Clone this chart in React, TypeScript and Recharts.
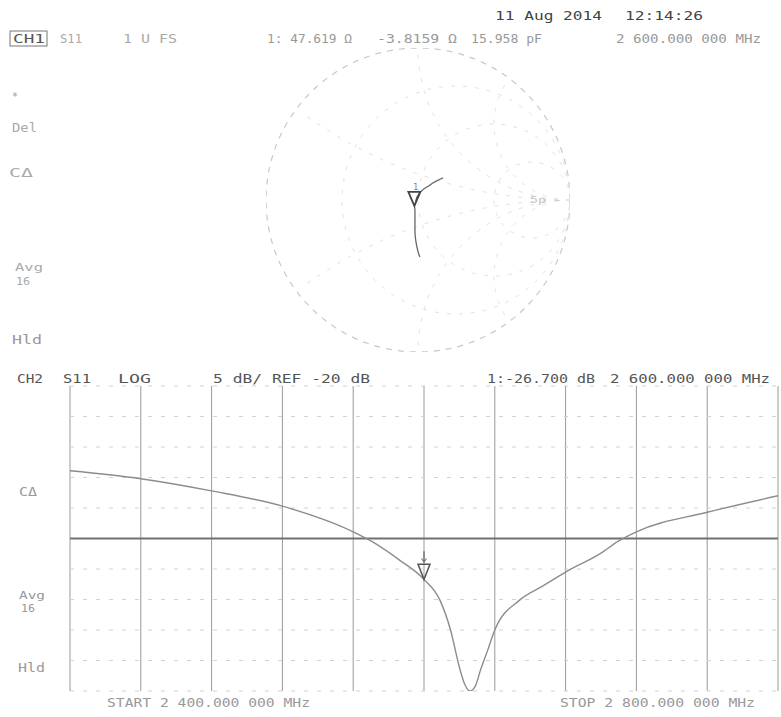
import React from "react";
import {
	CartesianGrid,
	Line,
	LineChart,
	ReferenceDot,
	ReferenceLine,
	XAxis,
	YAxis,
} from "recharts";

// CH2: S11 log magnitude, 2400 - 2800 MHz
const freqMHz = [
	2400, 2440, 2480, 2520, 2560, 2570, 2586, 2600, 2609, 2615, 2620, 2623, 2626,
	2629, 2632, 2636, 2640, 2654, 2667, 2680, 2700, 2710, 2720, 2760, 2800,
];
const s11dB = [
	-8.9, -10.2, -12.2, -14.7, -18.9, -20.4, -23.5, -26.7, -30.1, -35.0, -41.1,
	-43.9, -45.0, -44.2, -41.5, -38.3, -35.0, -30.1, -27.8, -25.5, -22.4, -20.4,
	-18.9, -15.7, -13.0,
];
const freqTicks = [2400, 2440, 2480, 2520, 2560, 2600, 2640, 2680, 2720, 2760, 2800];
const dbTicks = [5, 0, -5, -10, -15, -20, -25, -30, -35, -40, -45];
const refLevel = -20;
const markerFreq = 2600;
const markerDb = -26.7;

// CH1: S11 on Smith chart (reflection coefficient, real / imag)
const smithRe = [0.164, 0.079, -0.007, -0.024, -0.02, -0.02, -0.007, 0.013];
const smithIm = [0.145, 0.099, 0.02, -0.039, -0.066, -0.217, -0.309, -0.375];
const markerRe = -0.024;
const markerIm = -0.039;

// Smith grid
const resistanceCircles = [1 / 3, 1, 3];
const reactanceArcs = [1 / 3, 1, 2, -1 / 3, -1, -2];

const traceData = freqMHz.map((f, i) => ({ f, db: s11dB[i] }));
const smithData = smithRe.map((re, i) => ({ re, im: smithIm[i] }));

function circlePoints(cx: number, cy: number, r: number) {
	const pts = [];
	for (let i = 0; i <= 120; i++) {
		const t = (i / 120) * Math.PI * 2;
		pts.push({ re: cx + r * Math.cos(t), im: cy + r * Math.sin(t) });
	}
	return pts;
}

function reactancePoints(x: number) {
	const r = 1 / Math.abs(x);
	const sign = x > 0 ? 1 : -1;
	const pts = [];
	for (let i = 0; i <= 200; i++) {
		const s = (i / 200) * Math.PI;
		const t = -sign * Math.PI / 2 - sign * s;
		const p = { re: 1 + r * Math.cos(t), im: sign * r + r * Math.sin(t) };
		if (p.re * p.re + p.im * p.im > 1.0005 && i > 0) break;
		pts.push(p);
	}
	return pts;
}

const innerGrid = "#e2e2e2";

const MarkerShape = (props: any) => {
	const { cx, cy } = props;
	return (
		<g>
			<line x1={cx} y1={cy - 28} x2={cx} y2={cy - 17} stroke="#666" strokeWidth={1.2} />
			<path d={`M${cx - 2.5},${cy - 21} L${cx},${cy - 17} L${cx + 2.5},${cy - 21}`} fill="none" stroke="#666" />
			<path d={`M${cx - 6},${cy - 15} L${cx + 6},${cy - 15} L${cx},${cy} Z`} fill="none" stroke="#555" strokeWidth={1.5} />
		</g>
	);
};

const SmithMarker = (props: any) => {
	const { cx, cy } = props;
	return (
		<g>
			<text x={cx - 1} y={cy - 16} fontSize={8} fill="#777" fontFamily="DejaVu Sans Mono">1</text>
			<path d={`M${cx - 6},${cy - 14} L${cx + 6},${cy - 14} L${cx},${cy} Z`} fill="none" stroke="#444" strokeWidth={1.8} />
		</g>
	);
};

type Lbl = { t: string; x: number; y: number; len?: number; fill?: string; size?: number };

const labels: Lbl[] = [
	{ t: "11 Aug 2014", x: 495, y: 20, len: 107, fill: "#444", size: 13 },
	{ t: "12:14:26", x: 625, y: 20, len: 78, fill: "#444", size: 13 },
	{ t: "CH1", x: 13, y: 43, len: 32, fill: "#555" },
	{ t: "S11", x: 60, y: 43, len: 22, fill: "#aaa" },
	{ t: "1 U FS", x: 123, y: 43, len: 54, fill: "#aaa" },
	{ t: "1: 47.619 Ω", x: 267, y: 43, len: 85, fill: "#999" },
	{ t: "-3.8159 Ω", x: 377, y: 43, len: 80, fill: "#999" },
	{ t: "15.958 pF", x: 471, y: 43, len: 71, fill: "#999" },
	{ t: "2 600.000 000 MHz", x: 616, y: 43, len: 145, fill: "#999" },
	{ t: "*", x: 12, y: 100, fill: "#999", size: 10 },
	{ t: "Del", x: 12, y: 132, len: 25, fill: "#aaa" },
	{ t: "CΔ", x: 9, y: 177, len: 24, fill: "#aaa" },
	{ t: "Avg", x: 15, y: 271, len: 28, fill: "#aaa", size: 10 },
	{ t: "16", x: 16, y: 285, len: 14, fill: "#aaa", size: 10 },
	{ t: "Hld", x: 12, y: 344, len: 30, fill: "#999" },
	{ t: "5p -", x: 530, y: 203, len: 32, fill: "#c4c4c4", size: 9 },
	{ t: "CH2", x: 17, y: 383, len: 26, fill: "#555" },
	{ t: "S11", x: 63, y: 383, len: 28, fill: "#555" },
	{ t: "LOG", x: 118, y: 383, len: 33, fill: "#555" },
	{ t: "5 dB/ REF -20 dB", x: 213, y: 383, len: 157, fill: "#555" },
	{ t: "1:-26.700 dB", x: 487, y: 383, len: 108, fill: "#555" },
	{ t: "2 600.000 000 MHz", x: 610, y: 383, len: 160, fill: "#555" },
	{ t: "CΔ", x: 19, y: 496, len: 18, fill: "#999" },
	{ t: "Avg", x: 19, y: 599, len: 26, fill: "#999", size: 10 },
	{ t: "16", x: 21, y: 612, len: 14, fill: "#999", size: 10 },
	{ t: "Hld", x: 18, y: 672, len: 27, fill: "#999" },
	{ t: "START 2 400.000 000 MHz", x: 107, y: 707, len: 203, fill: "#999" },
	{ t: "STOP 2 800.000 000 MHz", x: 560, y: 707, len: 195, fill: "#999" },
];

export default function App() {
	return (
		<div style={{ position: "absolute", left: 0, top: 0, width: 781, height: 717, background: "#fff" }}>
			{/* Smith chart (CH1) */}
			<div style={{ position: "absolute", left: 258, top: 40 }}>
				<LineChart width={320} height={320} margin={{ top: 8, right: 8, bottom: 8, left: 8 }}>
					<XAxis type="number" dataKey="re" domain={[-1, 1]} allowDataOverflow hide />
					<YAxis type="number" dataKey="im" domain={[-1, 1]} allowDataOverflow hide />
					<Line data={circlePoints(0, 0, 1)} dataKey="im" dot={false} stroke="#c8c8c8" strokeWidth={1.2} strokeDasharray="6 6" isAnimationActive={false} />
					{resistanceCircles.map((r) => (
						<Line key={`r${r}`} data={circlePoints(r / (1 + r), 0, 1 / (1 + r))} dataKey="im" dot={false} stroke={innerGrid} strokeWidth={1} strokeDasharray="4 8" isAnimationActive={false} />
					))}
					{reactanceArcs.map((x) => (
						<Line key={`x${x}`} data={reactancePoints(x)} dataKey="im" dot={false} stroke={innerGrid} strokeWidth={1} strokeDasharray="4 8" isAnimationActive={false} />
					))}
					<Line data={smithData} dataKey="im" dot={false} stroke="#666" strokeWidth={1.3} type="monotone" isAnimationActive={false} />
					<ReferenceDot x={markerRe} y={markerIm} r={0} shape={SmithMarker} />
				</LineChart>
			</div>

			{/* Log magnitude (CH2) */}
			<div style={{ position: "absolute", left: 0, top: 370 }}>
				<LineChart width={781} height={340} data={traceData} margin={{ top: 16, right: 3, bottom: 19, left: 70 }}>
					<CartesianGrid horizontal={false} stroke="#999" strokeWidth={1} />
					<CartesianGrid vertical={false} stroke="#d2d2d2" strokeDasharray="4 9" />
					<XAxis type="number" dataKey="f" domain={[2400, 2800]} ticks={freqTicks} hide />
					<YAxis type="number" domain={[-45, 5]} ticks={dbTicks} allowDataOverflow hide />
					<ReferenceLine y={refLevel} stroke="#707070" strokeWidth={2.2} />
					<Line dataKey="db" dot={false} stroke="#8c8c8c" strokeWidth={1.4} type="monotone" isAnimationActive={false} />
					<ReferenceDot x={markerFreq} y={markerDb} r={0} shape={MarkerShape} />
				</LineChart>
			</div>

			{/* annotations */}
			<svg width={781} height={717} style={{ position: "absolute", left: 0, top: 0, pointerEvents: "none" }}>
				<rect x={10} y={31} width={37} height={15} fill="none" stroke="#777" strokeWidth={1} />
				{labels.map((l, i) => (
					<text
						key={i}
						x={l.x}
						y={l.y}
						fontSize={l.size ?? 12}
						fill={l.fill ?? "#555"}
						fontFamily="DejaVu Sans Mono"
						textLength={l.len}
						lengthAdjust={l.len ? "spacingAndGlyphs" : undefined}
					>
						{l.t}
					</text>
				))}
			</svg>
		</div>
	);
}
